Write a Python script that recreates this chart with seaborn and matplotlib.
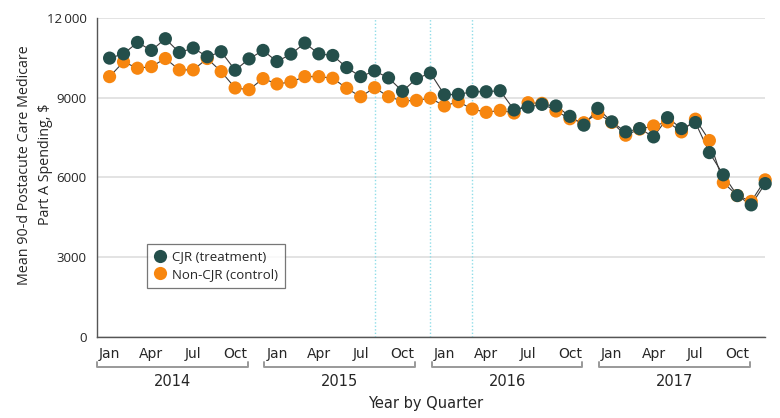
#!/usr/bin/env python3
# CJR vs non-CJR postacute spending by month, 2014-2017

import numpy as np
import pandas as pd
import matplotlib
matplotlib.use("Agg")
import matplotlib.pyplot as plt
import matplotlib.transforms as mtransforms
import seaborn as sns

years = [2014, 2015, 2016, 2017]
quarter_labels = ["Jan", "Apr", "Jul", "Oct"]
series_names = ["CJR (treatment)", "Non-CJR (control)"]

cjr = [
    10490, 10650, 11080, 10780, 11220, 10700, 10870, 10540, 10730, 10035, 10460, 10780,
    10360, 10640, 11056, 10650, 10590, 10134, 9794, 10009, 9745, 9241, 9720, 9930,
    9113, 9125, 9225, 9225, 9263, 8540, 8650, 8750, 8690, 8300, 7968, 8600,
    8093, 7715, 7840, 7527, 8250, 7840, 8067, 6936, 6100, 5320, 4970, 5770,
]
non_cjr = [
    9794, 10350, 10110, 10170, 10475, 10047, 10047, 10475, 9983, 9367, 9303, 9720,
    9518, 9593, 9794, 9794, 9733, 9355, 9038, 9378, 9038, 8875, 8900, 8985,
    8690, 8850, 8575, 8450, 8525, 8425, 8813, 8788, 8500, 8210, 8060, 8410,
    8070, 7590, 7820, 7940, 8093, 7715, 8193, 7390, 5810, 5320, 5100, 5910,
]
# months (index from Jan 2014) marked with dotted lines
event_months = [19, 23, 26]

colors = {"CJR (treatment)": "#244f4b", "Non-CJR (control)": "#f7860f"}

month = np.arange(len(cjr))
df = pd.concat([
    pd.DataFrame({"month": month, "spend": non_cjr, "group": series_names[1]}),
    pd.DataFrame({"month": month, "spend": cjr, "group": series_names[0]}),
], ignore_index=True)

sns.set_style("white")
plt.rcParams["font.family"] = ["Liberation Sans Narrow", "DejaVu Sans"]

fig = plt.figure(figsize=(7.8, 4.18), dpi=100)
ax = fig.add_axes([0.1244, 0.1938, 0.8566, 0.7632])

for v in event_months:
    ax.axvline(v, color="#8fdde8", lw=1.0, ls=(0, (1, 1.5)), zorder=1)

for name in [series_names[1], series_names[0]]:
    sns.lineplot(data=df[df.group == name], x="month", y="spend", color="#3a3a3a",
                 lw=0.8, ax=ax, zorder=2, legend=False)

sns.scatterplot(data=df, x="month", y="spend", hue="group", hue_order=series_names,
                palette=colors, s=90, linewidth=0, ax=ax, zorder=3, clip_on=False)

ax.set_ylim(0, 12000)
ax.set_xlim(-0.9, 47)
ax.set_yticks([0, 3000, 6000, 9000, 12000])
ax.set_yticklabels(["0", "3000", "6000", "9000", "12\u2009000"],
                   family=["Open Sans", "DejaVu Sans"], fontsize=9.5)
ax.yaxis.grid(True, color="#dedede", lw=1.2)
ax.set_axisbelow(True)

ticks = [12 * i + q * 3 for i in range(len(years)) for q in range(4)]
ax.set_xticks(ticks)
ax.set_xticklabels(quarter_labels * len(years), fontsize=10)
ax.tick_params(axis="both", direction="out", length=4, width=0.8, color="#555555")
ax.tick_params(axis="x", pad=3)

for s in ["top", "right"]:
    ax.spines[s].set_visible(False)
for s in ["left", "bottom"]:
    ax.spines[s].set_color("#555555")
    ax.spines[s].set_linewidth(1.0)

ax.set_ylabel("Mean 90-d Postacute Care Medicare\nPart A Spending, $",
              family=["Open Sans", "DejaVu Sans"], fontsize=10.3, linespacing=1.5)
ax.yaxis.set_label_coords(-0.066, 0.54)
ax.set_xlabel("")

# year brackets under the quarter labels
trans = mtransforms.blended_transform_factory(ax.transData, ax.transAxes)
for i, yr in enumerate(years):
    x0, x1 = 12 * i - 0.9, 12 * i + 9.9
    ax.plot([x0, x0, x1, x1], [-0.079, -0.094, -0.094, -0.079], transform=trans,
            color="#999999", lw=1.4, clip_on=False)
    ax.text((x0 + x1) / 2, -0.138, str(yr), transform=trans, ha="center",
            va="center", fontsize=10.5)
fig.text(0.545, 0.035, "Year by Quarter", ha="center", va="center", fontsize=10.5)

leg = ax.legend(loc="lower left", bbox_to_anchor=(0.075, 0.155), frameon=True,
                fancybox=False, edgecolor="#555555",
                prop={"family": ["Open Sans", "DejaVu Sans"], "size": 9.5},
                handletextpad=0.4, borderpad=0.5, labelspacing=0.35,
                handlelength=1.0, borderaxespad=0)
leg.get_frame().set_linewidth(0.9)

fig.savefig("out.png", dpi=100)
